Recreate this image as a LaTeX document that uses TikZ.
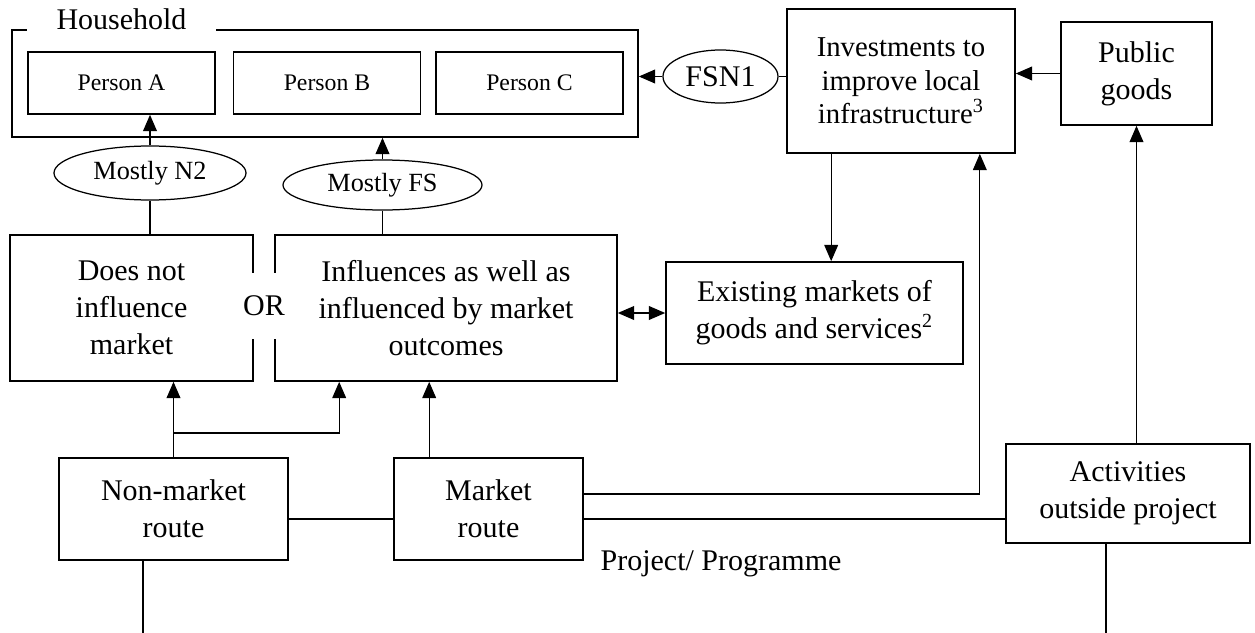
\documentclass[tikz,border=0pt]{standalone}
\usepackage{fontspec}
\setmainfont{Liberation Serif}
\usetikzlibrary{
    shapes.geometric,
    arrows.meta
}

\begin{document}
\begin{tikzpicture}[x=0.4pt, y=-0.4pt, >={Triangle[length=6.5pt,width=5.5pt]}, line width=0.5pt, font=\fontsize{12}{14.8}\selectfont]
    \tikzstyle{box}=[draw, rectangle, align=center, inner sep=0pt, line width=0.65pt]
    \tikzstyle{oval}=[draw, ellipse, inner sep=0pt, font=\fontsize{10.5}{12}\selectfont]
    \tikzstyle{person}=[box, minimum width=74.8pt, minimum height=24.8pt, font=\fontsize{9.5}{11}\selectfont]
    \useasboundingbox (0,0) rectangle (1255,633);
    \node[box, minimum width=250.4pt, minimum height=42.8pt] (hh) at (325, 83.5) {};
    \node[fill=white, minimum width=75.6pt, anchor=base, inner ysep=2pt] (hl) at (121.5, 30) {Household};
    \node[person] (pa) at (121.5, 83) {Person A};
    \node[person] (pb) at (327, 83) {Person B};
    \node[person] (pc) at (529.5, 83) {Person C};
    \node[oval, minimum width=46pt, minimum height=21.2pt, font=\fontsize{12}{14}\selectfont] (fsn) at (720.5, 76.5) {FSN1};
    \node[box, minimum width=91.2pt, minimum height=57.6pt, font=\fontsize{11.5}{13.4}\selectfont] (inv) at (901, 81) {Investments to\\improve local\\infrastructure\textsuperscript{3}};
    \node[box, minimum width=60.4pt, minimum height=41.2pt] (pg) at (1136.5, 73.5) {Public\\goods};
    \node[oval, minimum width=76.8pt, minimum height=21.6pt] (mn) at (150, 173) {Mostly N2};
    \node[oval, minimum width=79.6pt, minimum height=20pt] (mf) at (382.5, 185) {Mostly FS};
    \node[box, minimum width=97.2pt, minimum height=58.4pt] (dn) at (131.5, 308) {Does not\\influence\\market};
    \node[box, minimum width=136.8pt, minimum height=58.4pt] (inf) at (446, 308) {Influences as well as\\influenced by market\\outcomes};
    \node[fill=white, minimum height=26.4pt, inner xsep=1pt] (or) at (264, 306) {OR};
    \node[box, minimum width=118.8pt, minimum height=40.8pt] (ex) at (814.5, 313) {Existing markets of\\goods and services\textsuperscript{2}};
    \node[box, minimum width=91.6pt, minimum height=40.8pt] (nm) at (173.5, 509) {Non-market\\route};
    \node[box, minimum width=75.6pt, minimum height=40.8pt] (mk) at (488.5, 509) {Market\\route};
    \node[box, minimum width=97.6pt, minimum height=39.6pt] (act) at (1128, 493.5) {Activities\\outside project};
    \node[anchor=base west, inner sep=0pt] (pp) at (600, 570) {Project/ Programme};
    \coordinate (split) at (173.5, 433);
    \coordinate (nmend) at (143, 633);
    \coordinate (actend) at (1106, 633);
    \draw[->] (mn.north) -- (mn.north |- pa.south);
    \draw (mn.south) -- (mn.south |- dn.north);
    \draw[->] (mf.north) -- (mf.north |- hh.south);
    \draw (mf.south) -- (mf.south |- inf.north);
    \draw[->] (fsn.west) -- (fsn.west -| hh.east);
    \draw (fsn.east) -- (fsn.east -| inv.west);
    \draw[->] (pg.west) -- (pg.west -| inv.east);
    \draw[->] ([xshift=18pt]inv.south west) -- ([xshift=18pt]inv.south west |- ex.north);
    \draw[<->] (ex.west -| inf.east) -- (ex.west);
    \draw[->] (nm.north) -- (nm.north |- dn.south);
    \draw[->] (split) -| ([xshift=26pt]inf.south west);
    \draw[->] ([xshift=14.4pt]mk.north west) -- ([xshift=14.4pt]mk.north west |- inf.south);
    \draw ([yshift=-4pt]nm.east) -- ([yshift=-4pt]mk.west);
    \draw[->] ([yshift=6pt]mk.east) -| ([xshift=-14.4pt]inv.south east);
    \draw ([yshift=-4pt]mk.east) -- ([yshift=-4pt]mk.east -| act.west);
    \draw[->] (act.north -| pg.south) -- (pg.south);
    \draw (nm.south -| nmend) -- (nmend);
    \draw (act.south -| actend) -- (actend);
\end{tikzpicture}
\end{document}
